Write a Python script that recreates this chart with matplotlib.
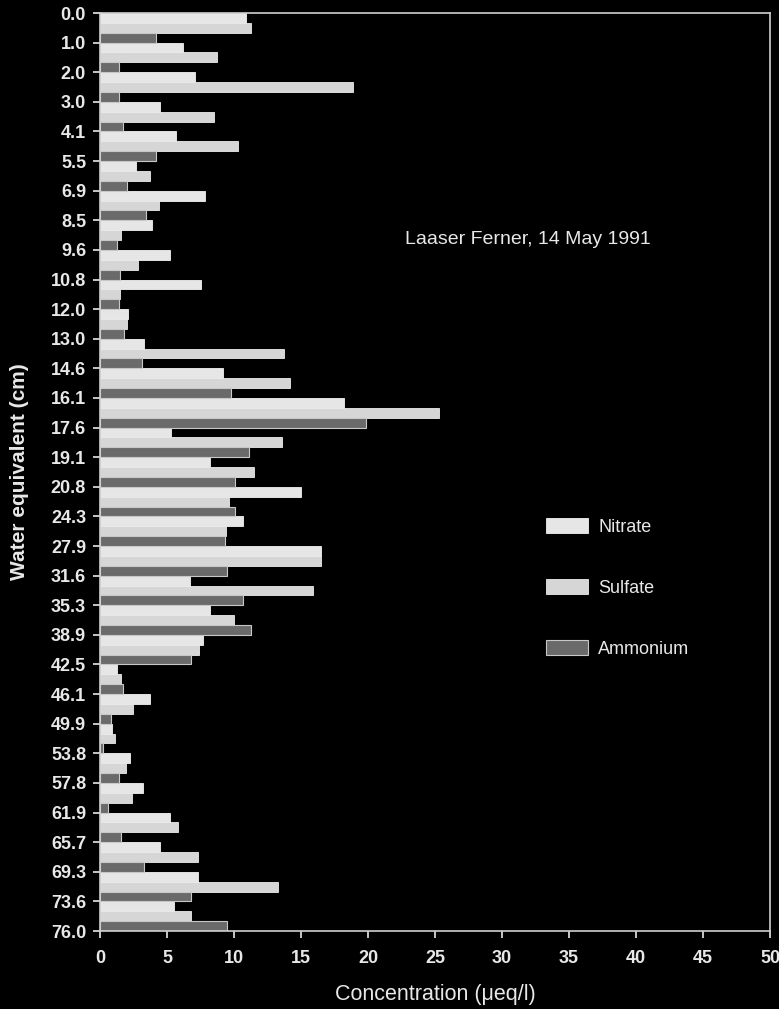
import numpy as np
import matplotlib.pyplot as plt

plt.rcParams['font.family'] = ['Liberation Sans', 'DejaVu Sans']

# depth labels (sample boundaries, cm water equivalent)
depths = ['0.0', '1.0', '2.0', '3.0', '4.1', '5.5', '6.9', '8.5', '9.6', '10.8',
          '12.0', '13.0', '14.6', '16.1', '17.6', '19.1', '20.8', '24.3', '27.9',
          '31.6', '35.3', '38.9', '42.5', '46.1', '49.9', '53.8', '57.8', '61.9',
          '65.7', '69.3', '73.6', '76.0']

# concentrations (ueq/l), one value per sample, top to bottom
nitrate = [10.9, 6.2, 7.1, 4.5, 5.7, 2.7, 7.8, 3.9, 5.2, 7.5,
           2.1, 3.3, 9.2, 18.2, 5.3, 8.2, 15.0, 10.7, 16.5, 6.7,
           8.2, 7.7, 1.25, 3.7, 0.9, 2.25, 3.2, 5.2, 4.5, 7.3, 5.5]
sulfate = [11.3, 8.7, 18.9, 8.5, 10.3, 3.75, 4.4, 1.6, 2.8, 1.5,
           2.0, 13.7, 14.2, 25.3, 13.6, 11.5, 9.6, 9.4, 16.5, 15.9,
           10.0, 7.4, 1.55, 2.45, 1.1, 1.95, 2.4, 5.8, 7.3, 13.3, 6.8]
ammonium = [4.2, 1.4, 1.4, 1.75, 4.2, 2.0, 3.4, 1.3, 1.5, 1.4,
            1.8, 3.1, 9.8, 19.85, 11.1, 10.1, 10.1, 9.3, 9.5, 10.7,
            11.3, 6.8, 1.75, 0.8, 0.25, 1.4, 0.6, 1.55, 3.3, 6.8, 9.5]

fg = '#e8e8e8'
fig = plt.figure(figsize=(7.79, 10.09), dpi=100, facecolor='black')
ax = fig.add_axes([100 / 779, 1 - 931 / 1009, 670 / 779, 918 / 1009])
ax.set_facecolor('black')

pos = np.arange(len(nitrate))
h = 1 / 3
ax.barh(pos + h / 2, nitrate, height=h, color='#e6e6e6', edgecolor='#f2f2f2',
        linewidth=0.6, label='Nitrate')
ax.barh(pos + 1.5 * h, sulfate, height=h, color='#d6d6d6', edgecolor='#ececec',
        linewidth=0.6, label='Sulfate')
ax.barh(pos + 2.5 * h, ammonium, height=h, color='#6a6a6a', edgecolor='#c8c8c8',
        linewidth=0.8, label='Ammonium')

ax.set_xlim(0, 50)
ax.set_ylim(len(nitrate), 0)
ax.set_yticks(np.arange(len(depths)))
ax.set_yticklabels(depths)
ax.set_xticks(np.arange(0, 51, 5))

for s in ax.spines.values():
    s.set_color('#cfcfcf')
    s.set_linewidth(1.2)
ax.tick_params(colors=fg, labelsize=13, width=1.2, length=5)
ax.tick_params(axis='y', pad=5)
ax.tick_params(axis='x', pad=9)
for t in ax.get_yticklabels() + ax.get_xticklabels():
    t.set_fontweight('bold')

ax.set_ylabel('Water equivalent (cm)', color=fg, fontsize=15, fontweight='bold')
ax.yaxis.set_label_coords(-0.106, 0.5)
ax.set_xlabel('Concentration (\u03bceq/l)', color=fg, fontsize=15.5, va='center')
ax.xaxis.set_label_coords(0.5, -0.0697)

ax.text(0.455, 0.753, 'Laaser Ferner, 14 May 1991', transform=ax.transAxes,
        color=fg, fontsize=14, ha='left', va='center')

leg = ax.legend(loc='upper left', bbox_to_anchor=(0.655, 0.458), frameon=False,
                labelspacing=2.4, handlelength=2.33, handleheight=0.9,
                handletextpad=0.55, fontsize=13, borderaxespad=0)
for t in leg.get_texts():
    t.set_color(fg)

fig.savefig('out.png', dpi=100, facecolor='black')
